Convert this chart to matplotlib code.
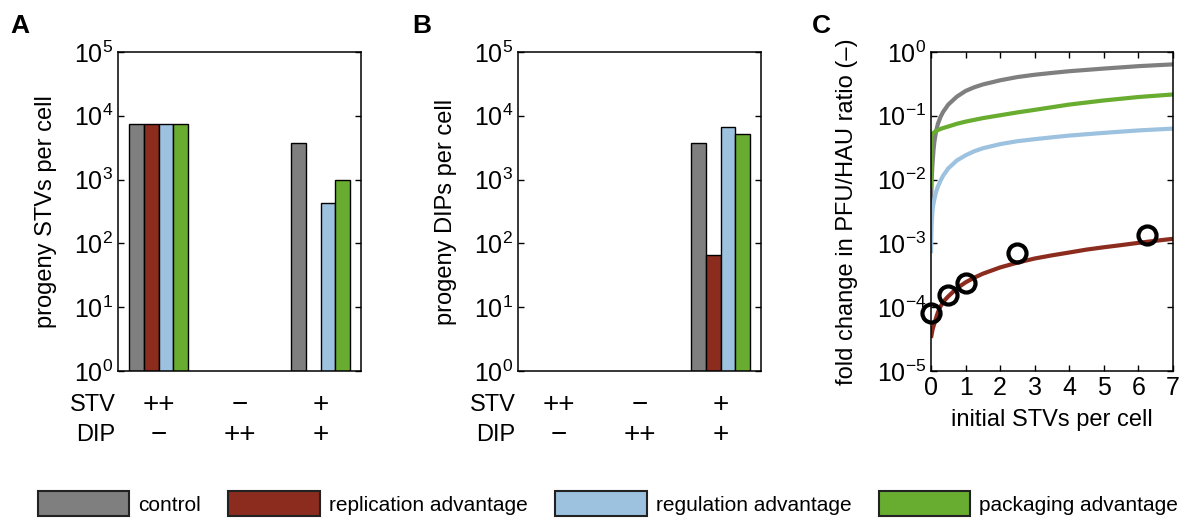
import numpy as np
import matplotlib
matplotlib.use("Agg")
import matplotlib.pyplot as plt
from matplotlib.patches import Patch
from matplotlib.ticker import LogLocator, NullLocator

plt.rcParams['font.family'] = ['Liberation Sans', 'DejaVu Sans']
plt.rcParams['mathtext.fontset'] = 'custom'
plt.rcParams['mathtext.rm'] = 'Liberation Sans'
plt.rcParams['mathtext.it'] = 'Liberation Sans:italic'

# ---- data ----
conditions = ['control', 'replication advantage', 'regulation advantage', 'packaging advantage']
colors = ['#7f7f7f', '#8b2c1f', '#9cc2e0', '#68ac30']

groups = [1, 2, 3]
stv_row = ['++', '\u2212', '+']
dip_row = ['\u2212', '++', '+']

nan = np.nan
# panel A: progeny STVs per cell
stv_control = [7400, nan, 3700]
stv_replication = [7400, nan, nan]
stv_regulation = [7400, nan, 430]
stv_packaging = [7400, nan, 1000]

# panel B: progeny DIPs per cell
dip_control = [nan, nan, 3700]
dip_replication = [nan, nan, 65]
dip_regulation = [nan, nan, 6600]
dip_packaging = [nan, nan, 5100]

# panel C: fold change curves
c_x = [0, 0.01, 0.02, 0.035, 0.05, 0.075, 0.1, 0.15, 0.2, 0.275, 0.35, 0.5, 0.75, 1, 1.25, 1.5, 2,
       2.5, 3, 3.5, 4, 5, 6, 7]
c_control = [0.003, 0.0065, 0.01, 0.015, 0.02, 0.03, 0.04, 0.058, 0.075, 0.096, 0.115, 0.15, 0.2,
             0.245, 0.28, 0.31, 0.36, 0.405, 0.44, 0.47, 0.50, 0.55, 0.60, 0.64]
c_regulation = [0.0007, 0.0013, 0.002, 0.0028, 0.0036, 0.0043, 0.005, 0.0065, 0.0078, 0.0096,
                0.0115, 0.015, 0.02, 0.024, 0.0278, 0.031, 0.036, 0.040, 0.043, 0.046, 0.049,
                0.054, 0.059, 0.063]
pk_x = [0, 0.01, 0.05, 0.15, 0.3, 0.5, 0.75, 1, 1.5, 2, 2.5, 3, 4, 5, 6, 7]
c_packaging = [0.0075, 0.05, 0.053, 0.058, 0.063, 0.068, 0.075, 0.081, 0.092, 0.102, 0.113,
               0.124, 0.15, 0.174, 0.197, 0.216]
rep_x = [0, 0.05, 0.1, 0.175, 0.25, 0.375, 0.5, 0.75, 1, 1.25, 1.5, 2, 2.5, 3, 3.5, 4, 4.5, 5,
         5.5, 6, 6.5, 7]
c_replication = [3.3e-5, 4.6e-5, 5.6e-5, 7.6e-5, 9.8e-5, 1.25e-4, 1.48e-4, 1.98e-4, 2.45e-4,
                 2.9e-4, 3.35e-4, 4.2e-4, 5.0e-4, 5.8e-4, 6.5e-4, 7.2e-4, 8.0e-4, 8.7e-4,
                 9.4e-4, 1.02e-3, 1.1e-3, 1.18e-3]

# measured points
obs_x = [0, 0.5, 1, 2.5, 6.25]
obs_y = [8.1e-5, 1.55e-4, 2.4e-4, 7.0e-4, 1.35e-3]

fig = plt.figure(figsize=(12, 5.22), dpi=100)

W, H = 1200.0, 522.0
bottom = (H - 371) / H
height = 319 / H


def style_log_axis(ax):
    ax.set_yscale('log')
    ax.yaxis.set_major_locator(LogLocator(base=10, numticks=20))
    ax.yaxis.set_minor_locator(NullLocator())
    ax.tick_params(direction='in', length=4, width=1, labelsize=18, right=True)
    for s in ax.spines.values():
        s.set_linewidth(1.1)


def bar_panel(ax, series, ylabel):
    width = 0.18
    offsets = [-1.5, -0.5, 0.5, 1.5]
    for vals, off, col in zip(series, offsets, colors):
        ax.bar(np.array(groups) + off * width, vals, width=width, color=col,
               edgecolor='black', linewidth=1, bottom=0)
    style_log_axis(ax)
    ax.set_ylim(1, 1e5)
    ax.set_xlim(0.5, 3.5)
    ax.set_xticks([])
    ax.set_ylabel(ylabel, fontsize=17)
    ax.yaxis.set_label_coords(-0.25, 0.5)
    tr = ax.get_xaxis_transform()
    ax.text(-0.01, -0.107, 'STV', transform=ax.transAxes, ha='right', va='center', fontsize=17)
    ax.text(-0.01, -0.2, 'DIP', transform=ax.transAxes, ha='right', va='center', fontsize=17)
    for g, s, d in zip(groups, stv_row, dip_row):
        ax.text(g, -0.107, s, transform=tr, ha='center', va='center', fontsize=20)
        ax.text(g, -0.2, d, transform=tr, ha='center', va='center', fontsize=20)


axA = fig.add_axes([118 / W, bottom, 243 / W, height])
bar_panel(axA, [stv_control, stv_replication, stv_regulation, stv_packaging],
          'progeny STVs per cell')

axB = fig.add_axes([518 / W, bottom, 243 / W, height])
bar_panel(axB, [dip_control, dip_replication, dip_regulation, dip_packaging],
          'progeny DIPs per cell')

axC = fig.add_axes([931 / W, bottom, 242 / W, height])
axC.plot(c_x, c_control, color=colors[0], lw=3, solid_capstyle='butt')
axC.plot(c_x, c_regulation, color=colors[2], lw=3, solid_capstyle='butt')
axC.plot(pk_x, c_packaging, color=colors[3], lw=3, solid_capstyle='butt')
axC.plot(rep_x, c_replication, color=colors[1], lw=3, solid_capstyle='butt')
axC.plot(obs_x, obs_y, 'o', mfc='none', mec='black', mew=3, ms=13, linestyle='none',
         clip_on=False, zorder=5)
style_log_axis(axC)
axC.tick_params(top=True)
axC.set_ylim(1e-5, 1)
axC.set_xlim(0, 7)
axC.set_xticks(range(8))
axC.set_ylabel('fold change in PFU/HAU ratio (\u2013)', fontsize=17)
axC.yaxis.set_label_coords(-0.3, 0.5)
axC.set_xlabel('initial STVs per cell', fontsize=17)
axC.xaxis.set_label_coords(0.5, -0.12)

# panel letters
for lbl, xp in zip(['A', 'B', 'C'], [10, 412, 812]):
    fig.text(xp / W, 1 - 33 / H, lbl, fontsize=19, fontweight='bold', va='baseline')

handles = [Patch(facecolor=c, edgecolor='#222222', linewidth=1.5) for c in colors]
fig.legend(handles, conditions, loc='center left', bbox_to_anchor=(37.7 / W, (H - 503.7) / H),
           ncol=4, frameon=False, fontsize=15, handlelength=4.4, handleheight=1.46,
           handletextpad=0.44, columnspacing=1.3, borderpad=0, borderaxespad=0)

fig.savefig('out.png', dpi=100)
